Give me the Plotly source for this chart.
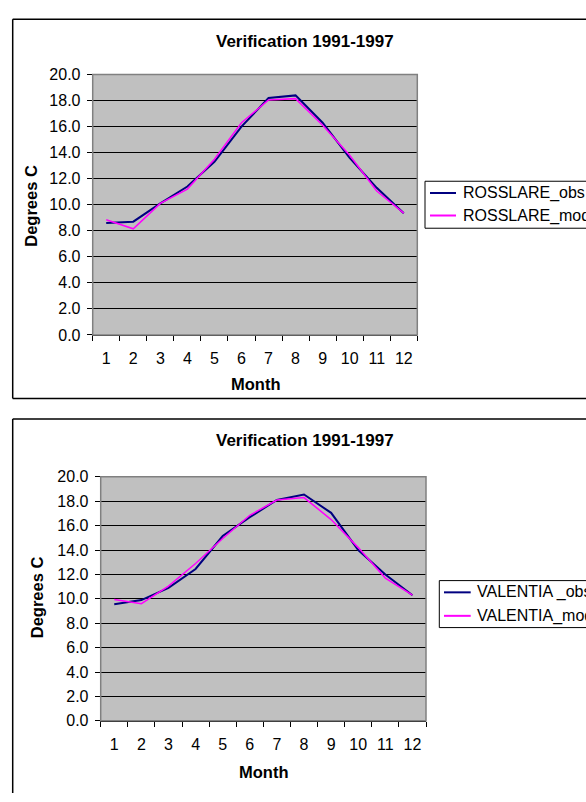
import plotly.graph_objects as go

months = list(range(1, 13))
month_labels = [str(m) for m in months]

rosslare_obs = [8.6, 8.7, 10.1, 11.4, 13.3, 16.0, 18.2, 18.4, 16.3, 13.6, 11.3, 9.35]
rosslare_mod = [8.85, 8.15, 10.1, 11.2, 13.5, 16.3, 18.05, 18.15, 16.1, 13.8, 11.05, 9.35]

valentia_obs = [9.55, 9.9, 10.9, 12.45, 15.15, 16.7, 18.1, 18.55, 17.05, 14.0, 12.0, 10.3]
valentia_mod = [9.95, 9.6, 11.05, 12.9, 14.95, 16.85, 18.1, 18.3, 16.5, 14.2, 11.7, 10.3]

series_names_top = ["ROSSLARE_obs", "ROSSLARE_mod"]
series_names_bot = ["VALENTIA _obs", "VALENTIA_mod"]

title_text = "Verification 1991-1997"
y_title = "Degrees C"
x_title = "Month"

W, H = 586, 802
FONT = "Liberation Sans, Arial, sans-serif"
OBS_C = "#000080"
MOD_C = "#FF00FF"
COLORS = [OBS_C, MOD_C]
WIDTHS = [2, 1.5]
TICK_SIZE = 16
LABEL_SIZE = 16.5
TITLE_SIZE = 17


def px(x):
    return x / W


def py(y):
    return 1 - y / H


fig = go.Figure()

for vals, name, c, w in zip([rosslare_obs, rosslare_mod], series_names_top, COLORS, WIDTHS):
    fig.add_trace(go.Scatter(x=months, y=vals, mode="lines", name=name,
                             line=dict(color=c, width=w), xaxis="x", yaxis="y",
                             showlegend=False))
for vals, name, c, w in zip([valentia_obs, valentia_mod], series_names_bot, COLORS, WIDTHS):
    fig.add_trace(go.Scatter(x=months, y=vals, mode="lines", name=name,
                             line=dict(color=c, width=w), xaxis="x2", yaxis="y2",
                             showlegend=False))

# plot areas (pixel boxes)
top_box = dict(l=92.7, r=417.3, t=68, b=334)
bot_box = dict(l=100.7, r=426, t=479, b=728.3)

half_ticks = [m - 0.5 for m in months] + [12.5]


def xaxis_cfg(box, anchor):
    return dict(domain=[px(box["l"]), px(box["r"])], anchor=anchor,
                range=[0.5, 12.5], tickvals=months, ticktext=month_labels,
                ticks="", showgrid=False, zeroline=False,
                showline=True, linecolor="black", linewidth=1,
                ticklabelstandoff=9,
                tickfont=dict(family=FONT, size=TICK_SIZE, color="black"),
                minor=dict(tickvals=half_ticks, ticks="outside", ticklen=5,
                           tickcolor="black", tickwidth=1, showgrid=False),
                fixedrange=True)


def yaxis_cfg(box, anchor):
    return dict(domain=[py(box["b"]), py(box["t"])], anchor=anchor,
                range=[0, 20], dtick=2, tick0=0, tickformat=".1f",
                ticks="outside", ticklen=5, tickcolor="black",
                showgrid=True, gridcolor="black", gridwidth=1,
                zeroline=False, showline=True, linecolor="black", linewidth=1,
                ticklabelstandoff=3,
                tickfont=dict(family=FONT, size=TICK_SIZE, color="black"),
                fixedrange=True)


def line(x0, y0, x1, y1, color="black", width=1.5):
    return dict(type="line", xref="paper", yref="paper",
                x0=px(x0), y0=py(y0), x1=px(x1), y1=py(y1),
                line=dict(color=color, width=width))


shapes = []
for box in (top_box, bot_box):
    shapes.append(dict(type="rect", xref="paper", yref="paper",
                       x0=px(box["l"]), x1=px(box["r"]), y0=py(box["b"]), y1=py(box["t"]),
                       line=dict(color="#808080", width=1.5), fillcolor="rgba(0,0,0,0)",
                       layer="above"))

# outer chart borders (open on the right / bottom edges, as in the reference)
shapes += [
    line(12.7, 11.5, 12.7, 399), line(12.7, 11.5, W, 11.5), line(12.7, 399, W, 399),
    line(12.7, 420, 12.7, H), line(12.7, 420, W, 420),
]

# legend boxes (cut off at the right edge)
annotations = []
for (lx, ly0, ly1, rows, sx0, sx1, tx), names in [
        ((425, 177, 225, (189, 212), 430, 456, 461), series_names_top),
        ((439.3, 585, 633, (597, 621), 444, 470.7, 475), series_names_bot)]:
    shapes += [line(lx, ly0, W, ly0, width=1), line(lx, ly0, lx, ly1, width=1),
               line(lx, ly1, W, ly1, width=1)]
    for ry, name, c in zip(rows, names, COLORS):
        shapes.append(line(sx0, ry, sx1, ry, color=c, width=2))
        annotations.append(dict(text=name, xref="paper", yref="paper",
                                x=px(tx), y=py(ry), xanchor="left", yanchor="middle",
                                showarrow=False,
                                font=dict(family=FONT, size=TICK_SIZE, color="black")))

for (tx, ty), (yx, yy), (mx, my) in [((305, 34), (31, 202), (255, 384)),
                                     ((305, 442), (37, 602), (263.4, 781))]:
    annotations.append(dict(text=f"<b>{title_text}</b>", xref="paper", yref="paper",
                            x=px(tx), y=py(ty), xanchor="center", yanchor="middle",
                            showarrow=False, font=dict(family=FONT, size=TITLE_SIZE, color="black")))
    annotations.append(dict(text=f"<b>{y_title}</b>", xref="paper", yref="paper",
                            x=px(yx), y=py(yy), xanchor="center", yanchor="middle",
                            textangle=-90, showarrow=False,
                            font=dict(family=FONT, size=LABEL_SIZE, color="black")))
    annotations.append(dict(text=f"<b>{x_title}</b>", xref="paper", yref="paper",
                            x=px(mx), y=py(my), xanchor="center", yanchor="middle",
                            showarrow=False, font=dict(family=FONT, size=LABEL_SIZE, color="black")))

fig.update_layout(
    width=W, height=H,
    margin=dict(l=0, r=0, t=0, b=0),
    paper_bgcolor="white",
    plot_bgcolor="#C0C0C0",
    xaxis=xaxis_cfg(top_box, "y"),
    yaxis=yaxis_cfg(top_box, "x"),
    xaxis2=xaxis_cfg(bot_box, "y2"),
    yaxis2=yaxis_cfg(bot_box, "x2"),
    shapes=shapes,
    annotations=annotations,
    showlegend=False,
)

fig.write_html(
    "out.html",
    config={"displayModeBar": False},
    post_script="document.body.style.margin='0';document.body.style.padding='0';"
                "document.documentElement.style.overflow='hidden';document.body.style.overflow='hidden';",
)
